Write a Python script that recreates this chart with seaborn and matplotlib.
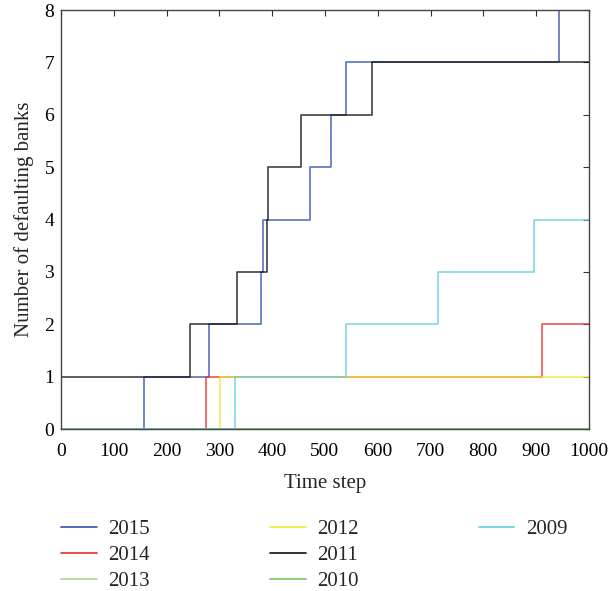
import numpy as np
import pandas as pd
import matplotlib
matplotlib.use("Agg")
import matplotlib.pyplot as plt
import seaborn as sns
from matplotlib.lines import Line2D

# change points (time step where the count jumps) and counts after each jump
years = ["2015", "2014", "2013", "2012", "2011", "2010", "2009"]
steps_x = {
    "2015": [0, 157, 280, 379, 382, 471, 511, 539, 943],
    "2014": [0, 274, 912],
    "2013": [0],
    "2012": [0, 302],
    "2011": [0, 244, 334, 390, 392, 455, 589],
    "2010": [0],
    "2009": [0, 330, 539, 714, 896],
}
steps_y = {
    "2015": [0, 1, 2, 3, 4, 5, 6, 7, 8],
    "2014": [0, 1, 2],
    "2013": [0],
    "2012": [0, 1],
    "2011": [1, 2, 3, 4, 5, 6, 7],
    "2010": [0],
    "2009": [0, 1, 2, 3, 4],
}
colors = ["#2f4fae", "#ea2a2a", "#a6d98c", "#f2ea2e", "#111111", "#78c257", "#5fd0de"]
t_end = 1000

rows = []
for yr in years:
    xs = steps_x[yr] + [t_end]
    ys = steps_y[yr] + [steps_y[yr][-1]]
    for x, y in zip(xs, ys):
        rows.append({"year": yr, "t": x, "n": y})
df = pd.DataFrame(rows)

sns.set_style("white")
plt.rcParams["font.family"] = ["Liberation Serif", "DejaVu Serif"]

fig = plt.figure(figsize=(6.11, 5.91), dpi=100)
ax = fig.add_axes([0.0998, 0.274, 0.864, 0.709])

sns.lineplot(data=df, x="t", y="n", hue="year", hue_order=years,
             palette=dict(zip(years, colors)), estimator=None,
             drawstyle="steps-post", linewidth=1.2, alpha=0.8,
             legend=False, ax=ax)

ax.set_xlim(0, 1000)
ax.set_ylim(0, 8)
ax.set_xticks(np.arange(0, 1001, 100))
ax.set_yticks(np.arange(0, 9, 1))
ax.tick_params(direction="in", top=True, right=True, length=4,
               labelsize=14, colors="#333333", labelcolor="black")
ax.tick_params(axis="x", pad=10)
ax.tick_params(axis="y", pad=5)
for s in ax.spines.values():
    s.set_color("#444444")
    s.set_linewidth(1.0)
ax.set_xlabel("Time step", fontsize=15, labelpad=10)
ax.set_ylabel("Number of defaulting banks", fontsize=15, labelpad=7)

handles = [Line2D([], [], color=c, lw=1.2) for c in colors]
labels = list(years)
# pad so the columns read 3-3-1 like the reference
handles += [Line2D([], [], color="none"), Line2D([], [], color="none")]
labels += ["", ""]
fig.legend(handles, labels, ncol=3, loc="upper left",
           bbox_to_anchor=(0.0867, 0.135), frameon=False, fontsize=15,
           handlelength=1.7, handletextpad=0.55, columnspacing=5.78,
           labelspacing=0.31, borderaxespad=0)

fig.savefig("out.png", dpi=100)
